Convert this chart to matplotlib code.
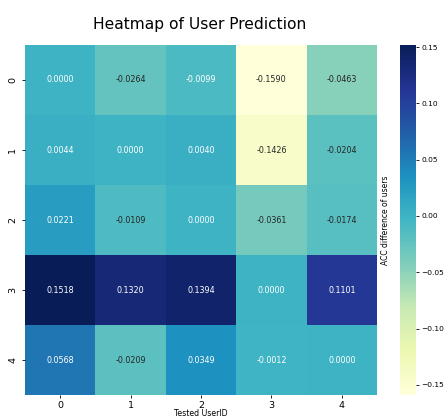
import numpy as np
import matplotlib
matplotlib.use("Agg")
import matplotlib.pyplot as plt
import seaborn as sns

# Accuracy difference between users (rows: trained user, columns: tested user)
user_ids = ["0", "1", "2", "3", "4"]
row0 = [0.0000, -0.0264, -0.0099, -0.1590, -0.0463]
row1 = [0.0044, 0.0000, 0.0040, -0.1426, -0.0204]
row2 = [0.0221, -0.0109, 0.0000, -0.0361, -0.0174]
row3 = [0.1518, 0.1320, 0.1394, 0.0000, 0.1101]
row4 = [0.0568, -0.0209, 0.0349, -0.0012, 0.0000]
acc_diff = np.array([row0, row1, row2, row3, row4])

W, H = 447, 419
fig = plt.figure(figsize=(W / 100, H / 100), dpi=100)
ax = fig.add_axes([25 / W, 1 - 395 / H, 352 / W, 350 / H])
cax = fig.add_axes([400 / W, 1 - 395 / H, 16 / W, 350 / H])

sns.heatmap(acc_diff, ax=ax, cbar_ax=cax, cmap="YlGnBu", annot=True, fmt=".4f",
            annot_kws={"fontsize": 5.8}, xticklabels=user_ids, yticklabels=user_ids)

ax.tick_params(axis="y", labelsize=6.8, length=2.5, width=0.6, pad=3)
ax.tick_params(axis="x", labelsize=6.8, length=2.5, width=0.6, pad=2)
ax.set_xlabel("Tested UserID", fontsize=5.6, labelpad=-0.6)
fig.text(200 / W, 1 - 24 / H, "Heatmap of User Prediction", fontsize=11.2,
         ha="center", va="center")

cax.tick_params(labelsize=5.4, length=2, width=0.6, pad=2)
cax.yaxis.set_label_position("left")
cax.set_ylabel("ACC difference of users", fontsize=5.5, labelpad=7)

fig.savefig("out.png", dpi=100)
